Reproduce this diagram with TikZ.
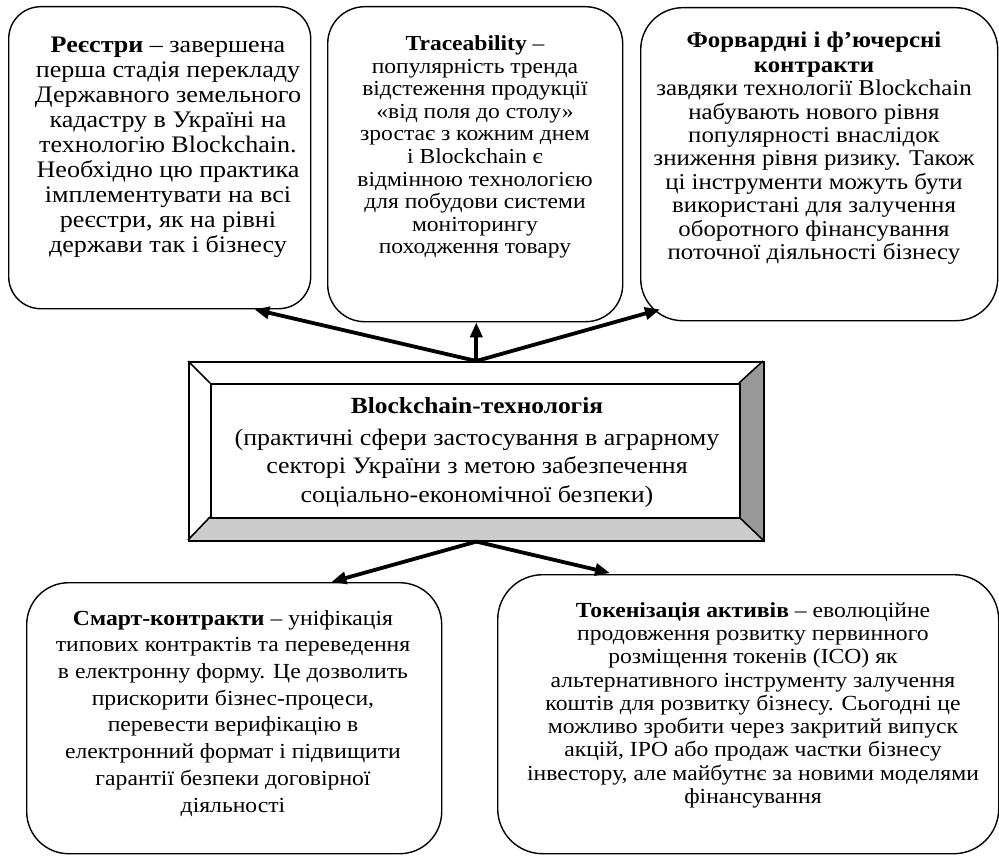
\documentclass[tikz,border=0pt]{standalone}
\usepackage{fontspec}
\setmainfont[FakeStretch=1.1]{Liberation Serif}
\usetikzlibrary{calc,arrows.meta}
\definecolor{bevbot}{HTML}{CCCCCC}
\definecolor{bevright}{HTML}{999999}
\begin{document}
\begin{tikzpicture}[x=1pt,y=-1pt,
  rbox/.style={draw=black, line width=1.4pt, anchor=north west, inner sep=0pt},
  txt/.style={align=center, anchor=north, inner sep=0pt},
  arr/.style={line width=3.8pt, -{Triangle[length=15pt,width=12pt]}}]
\useasboundingbox (0,0) rectangle (999,856);
% boxes
\node[rbox, rounded corners=32pt, minimum width=302pt, minimum height=302pt] (b1) at (8,6) {};
\node[rbox, rounded corners=37pt, minimum width=295pt, minimum height=315pt] (b2) at (327,6) {};
\node[rbox, rounded corners=42pt, minimum width=357pt, minimum height=313pt] (b3) at (640,7) {};
\node[rbox, rounded corners=42pt, minimum width=415pt, minimum height=271pt] (b4) at (26,582) {};
\node[rbox, rounded corners=45pt, minimum width=501pt, minimum height=279pt] (b5) at (497,574) {};
% central bevel box
\coordinate (o1) at (188,361);
\coordinate (o2) at (763,361);
\coordinate (o3) at (763,540);
\coordinate (o4) at (188,540);
\coordinate (i1) at (210,383);
\coordinate (i2) at (739,383);
\coordinate (i3) at (739,517);
\coordinate (i4) at (210,517);
\fill[bevbot] (o4) -- (o3) -- (i3) -- (i4) -- cycle;
\fill[bevright] (o2) -- (o3) -- (i3) -- (i2) -- cycle;
\draw[line width=1.6pt] (o1) -- (i1) (o2) -- (i2) (o3) -- (i3) (o4) -- (i4);
\node[draw, line width=1.6pt, inner sep=0pt, minimum width=575pt, minimum height=179pt, anchor=north west] (c) at (o1) {};
\node[draw, line width=1.6pt, inner sep=0pt, minimum width=529pt, minimum height=134pt, anchor=north west] (ci) at (i1) {};
% texts
\node[txt, font=\fontsize{23.7}{25}\selectfont] (t1) at (168,37) {\textbf{Реєстри} – завершена\\ перша стадія перекладу\\ Державного земельного\\ кадастру в Україні на\\ технологію Blockchain.\\ Необхідно цю практика\\ імплементувати на всі\\ реєстри, як на рівні\\ держави так і бізнесу};
\node[txt, font=\fontsize{21.4}{22.6}\selectfont] (t2) at (475,35.5) {\textbf{Traceability} –\\ популярність тренда\\ відстеження продукції\\ «від поля до столу»\\ зростає з кожним днем\\ і Blockchain є\\ відмінною технологією\\ для побудови системи\\ моніторингу\\ походження товару};
\node[txt, font=\fontsize{22.6}{23.4}\selectfont] (t3) at (814,31.5) {\textbf{Форвардні і ф’ючерсні}\\[1.5pt] \textbf{контракти}\\ завдяки технології Blockchain\\ набувають нового рівня\\ популярності внаслідок\\ зниження рівня ризику. Також\\ ці інструменти можуть бути\\ використані для залучення\\ оборотного фінансування\\ поточної діяльності бізнесу};
\node[txt, font=\fontsize{23.6}{28.7}\selectfont] (tc) at (477,397) {{\fontsize{23.1}{28.7}\selectfont\textbf{Blockchain-технологія}}\\[3.3pt] (практичні сфери застосування в аграрному\\ секторі України з метою забезпечення\\ соціально-економічної безпеки)};
\node[txt, font=\fontsize{21.5}{26.7}\selectfont] (t4) at (233,610) {\textbf{Смарт-контракти} – уніфікація\\ типових контрактів та переведення\\ в електронну форму. Це дозволить\\ прискорити бізнес-процеси,\\ перевести верифікацію в\\ електронний формат і підвищити\\ гарантії безпеки договірної\\ діяльності};
\node[txt, font=\fontsize{21.5}{23.3}\selectfont] (t5) at (753,602) {\textbf{Токенізація активів} – еволюційне\\ продовження розвитку первинного\\ розміщення токенів (ICO) як\\ альтернативного інструменту залучення\\ коштів для розвитку бізнесу. Сьогодні це\\ можливо зробити через закритий випуск\\ акцій, IPO або продаж частки бізнесу\\ інвестору, але майбутнє за новими моделями\\ фінансування};
% arrows
\draw[arr] (c.north) -- ($(b1.south east)+(-57,0)$);
\draw[arr] (c.north) -- (c.north |- b2.south);
\draw[arr] (c.north) -- ($(b3.south west)+(20,-12)$);
\draw[arr] (c.south) -- ($(b4.north east)+(-111,0)$);
\draw[arr] (c.south) -- ($(b5.north west)+(113,-1)$);
\end{tikzpicture}
\end{document}
